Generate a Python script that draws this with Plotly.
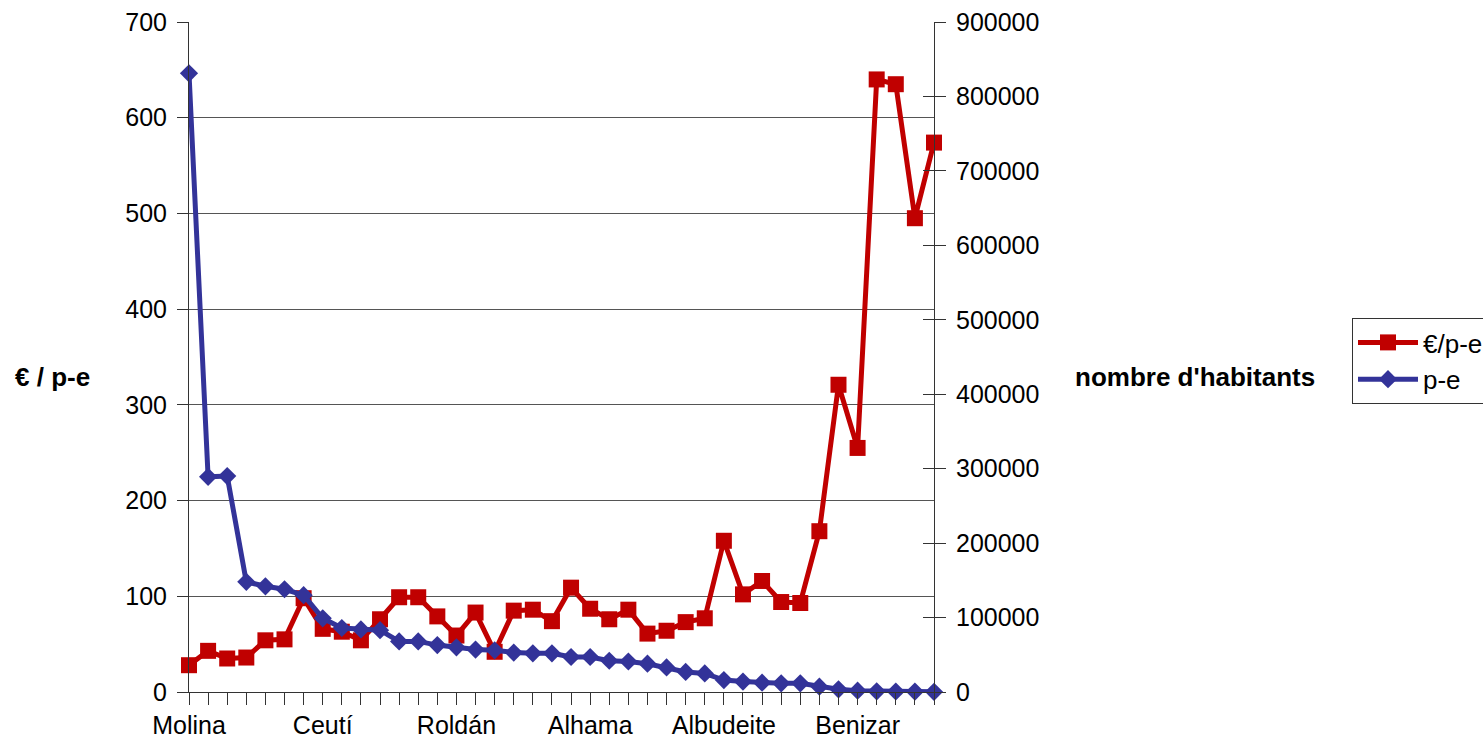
import plotly.graph_objects as go

# Municipalities in order of population-equivalent (40 stations)
n_points = 40
label_pos = [0, 7, 14, 21, 28, 35]
label_text = ["Molina", "Ceutí", "Roldán", "Alhama", "Albudeite", "Benizar"]

# Cost per population-equivalent (€/p-e), left axis
eur_pe = [28, 43, 35, 36, 54, 55, 98, 66, 63, 54,
          76, 99, 99, 79, 59, 83, 42, 85, 86, 74,
          109, 87, 76, 86, 61, 64, 73, 77, 158, 102,
          116, 94, 93, 168, 321, 255, 640, 635, 495, 574]

# Population-equivalent (p-e), right axis
pe = [831000, 289000, 290000, 148000, 142000, 138000, 130000, 99000, 86000, 84000,
      83000, 68000, 68000, 63000, 60000, 57000, 56000, 53000, 52000, 52000,
      47000, 47000, 42000, 41000, 38000, 33000, 27000, 25000, 16000, 14000,
      12500, 11600, 11600, 7100, 3600, 1800, 900, 700, 600, 300]

x = list(range(n_points))

FONT = "Liberation Sans, Arial, sans-serif"
RED = "#C00000"
BLUE = "#333399"
AXIS = "#333333"

fig = go.Figure()

fig.add_trace(go.Scatter(
    x=x, y=eur_pe, name="€/p-e", mode="lines+markers",
    line=dict(color=RED, width=5),
    marker=dict(symbol="square", size=16, color=RED),
    cliponaxis=False, yaxis="y",
))
fig.add_trace(go.Scatter(
    x=x, y=pe, name="p-e", mode="lines+markers",
    line=dict(color=BLUE, width=5),
    marker=dict(symbol="diamond", size=14, color=BLUE),
    cliponaxis=False, yaxis="y2",
))
# carrier for the inner half of the right-hand tick marks
fig.add_trace(go.Scatter(
    x=[None], y=[None], yaxis="y3", showlegend=False, hoverinfo="skip",
))

fig.update_layout(
    width=1483, height=738,
    margin=dict(l=189, r=549, t=22, b=46, autoexpand=False),
    paper_bgcolor="white", plot_bgcolor="white",
    font=dict(family=FONT, size=25, color="black"),
    xaxis=dict(
        range=[0, n_points - 1], tickmode="array",
        tickvals=label_pos, ticktext=label_text,
        ticks="outside", ticklen=12, tickcolor=AXIS, tickwidth=1,
        minor=dict(dtick=1, tick0=0, ticks="outside", ticklen=12,
                   tickcolor=AXIS, tickwidth=1, showgrid=False),
        showline=True, linecolor=AXIS, linewidth=1,
        showgrid=False, zeroline=False, ticklabelstandoff=-1,
    ),
    yaxis=dict(
        range=[0, 700], dtick=100, tick0=0,
        ticks="outside", ticklen=11, tickcolor=AXIS,
        showline=True, linecolor=AXIS, linewidth=1,
        showgrid=True, gridcolor="#555555", gridwidth=1,
        zeroline=False, ticklabelstandoff=5,
    ),
    yaxis2=dict(
        range=[0, 900000], dtick=100000, tick0=0, tickformat="d",
        overlaying="y", side="right",
        ticks="outside", ticklen=11, tickcolor=AXIS,
        showline=True, linecolor=AXIS, linewidth=1,
        showgrid=False, zeroline=False, ticklabelstandoff=5,
    ),
    yaxis3=dict(
        range=[0, 900000], dtick=100000, tick0=0,
        overlaying="y", side="right",
        ticks="inside", ticklen=11, tickcolor=AXIS,
        showticklabels=False, showline=False,
        showgrid=False, zeroline=False,
    ),
    legend=dict(
        x=(1352 - 189) / 745, y=(692 - 318) / 670,
        xanchor="left", yanchor="top",
        bordercolor="#333333", borderwidth=1, bgcolor="white",
        font=dict(family=FONT, size=26), itemwidth=60,
        traceorder="normal",
    ),
    annotations=[
        dict(text="<b>€ / p-e</b>", xref="paper", yref="paper",
             x=(52 - 189) / 745, y=(692 - 377) / 670,
             showarrow=False, xanchor="center", yanchor="middle",
             font=dict(family=FONT, size=26)),
        dict(text="<b>nombre d'habitants</b>", xref="paper", yref="paper",
             x=(1195 - 189) / 745, y=(692 - 377) / 670,
             showarrow=False, xanchor="center", yanchor="middle",
             font=dict(family=FONT, size=26)),
    ],
    showlegend=True,
)

fig.write_html("out.html")
